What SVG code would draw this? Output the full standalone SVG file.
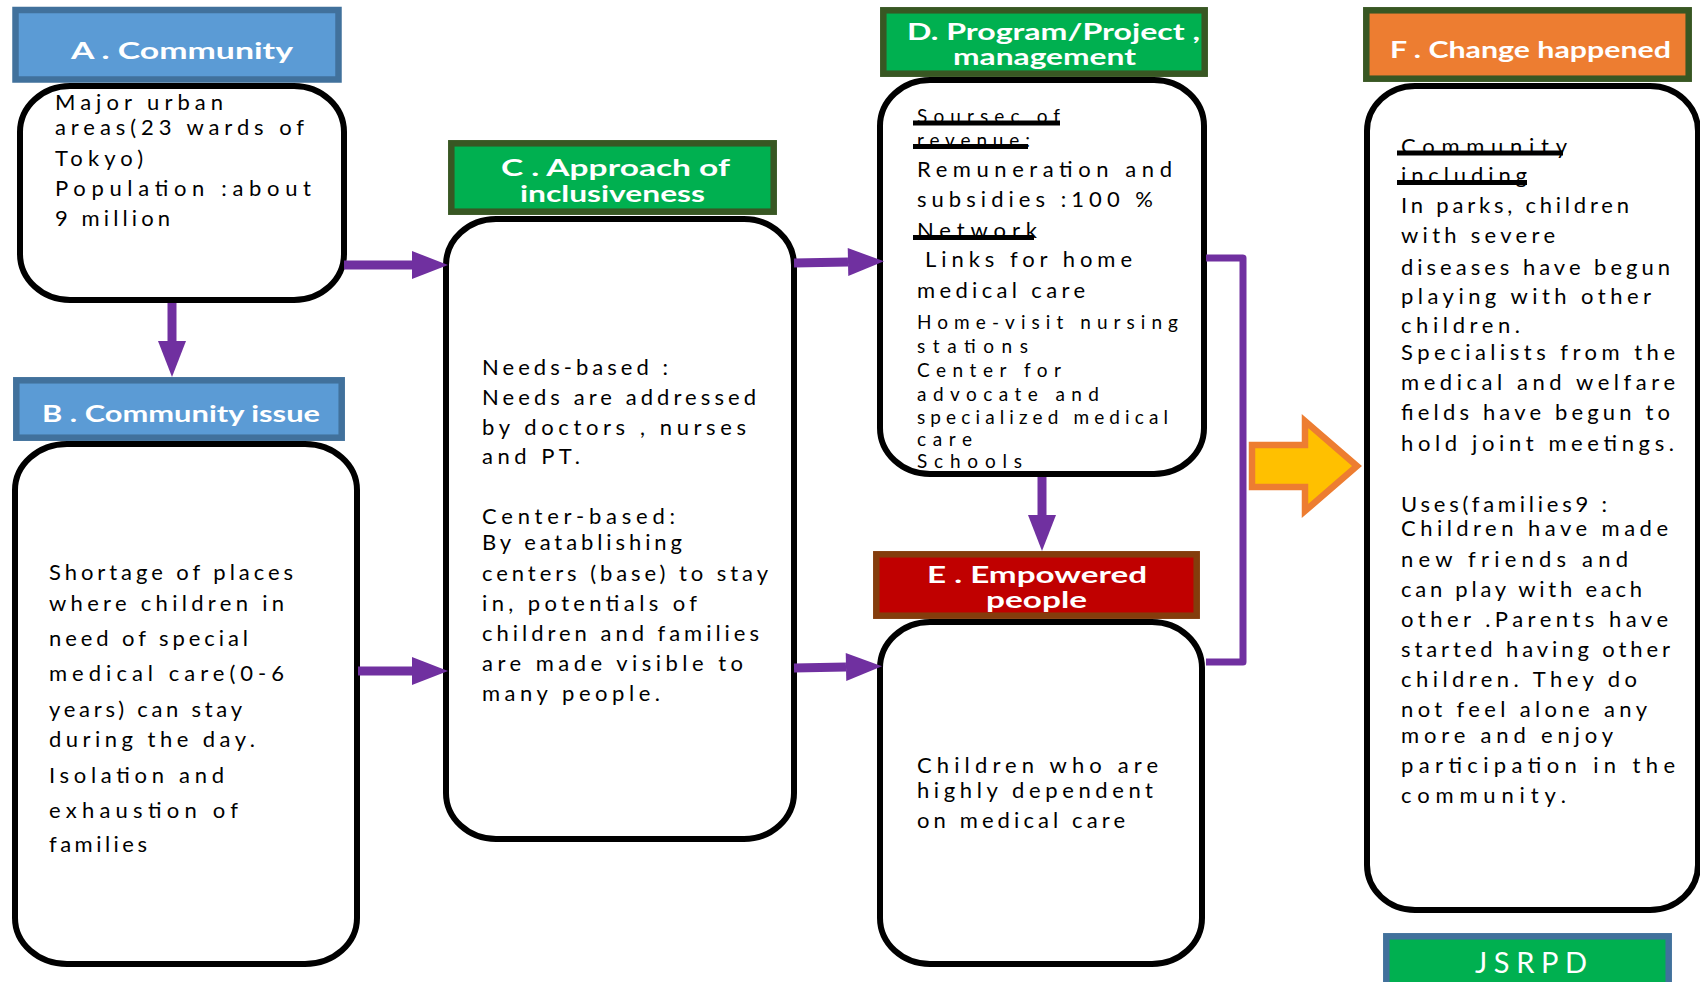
<svg xmlns="http://www.w3.org/2000/svg" width="1700" height="982" viewBox="0 0 1700 982">
  <defs>
    <style>
      .box { fill: #ffffff; stroke: #000000; stroke-width: 6; }
      .hb { stroke-width: 6.5; }
      .blue { fill: #5B9BD5; stroke: #41719C; }
      .green { fill: #00B050; stroke: #385723; }
      .badge { fill: #00B050; stroke: #41719C; }
      .red { fill: #C00000; stroke: #843C0C; }
      .orange { fill: #ED7D31; stroke: #385723; }
      .ht { font-family: Lato, "Liberation Sans", sans-serif; font-weight: bold; fill: #ffffff; font-size: 23px; }
      .t { font-family: Lato, "Liberation Sans", sans-serif; font-size: 22px; fill: #000000; }
      .ts { font-size: 19px; }
      .ul { fill: #000000; }
      .conn { stroke: #7030A0; stroke-width: 9; fill: none; }
      .bracket { stroke: #7030A0; stroke-width: 7; fill: none; stroke-linejoin: round; }
    </style>
    <marker id="ah" markerUnits="userSpaceOnUse" markerWidth="40" markerHeight="30" refX="0" refY="14" orient="auto" overflow="visible">
      <path d="M0,0 L36,14 L0,28 z" fill="#7030A0"/>
    </marker>
  </defs>

  <rect width="1700" height="982" fill="#ffffff"/>

  <!-- A. Community -->
  <g id="node-a">
    <rect class="box" x="20" y="86" width="324" height="214" rx="50" ry="46"/>
    <rect class="hb blue" x="15.5" y="10" width="323" height="69.5"/>
    <text class="ht" x="71" y="59" font-size="27" textLength="222" lengthAdjust="spacingAndGlyphs">A . Community</text>
    <text class="t" x="55" y="110" textLength="168" lengthAdjust="spacing">Major urban</text>
    <text class="t" x="55" y="135" textLength="249" lengthAdjust="spacing">areas(23 wards of</text>
    <text class="t" x="55" y="166" textLength="88" lengthAdjust="spacing">Tokyo)</text>
    <text class="t" x="55" y="196" textLength="256" lengthAdjust="spacing">Population :about</text>
    <text class="t" x="55" y="226" textLength="115" lengthAdjust="spacing">9 million</text>
  </g>

  <!-- B. Community issue -->
  <g id="node-b">
    <rect class="box" x="15" y="444" width="342" height="520" rx="52" ry="46"/>
    <rect class="hb blue" x="16.3" y="380.3" width="325.4" height="57.4"/>
    <text class="ht" x="42" y="422" textLength="278" lengthAdjust="spacingAndGlyphs">B . Community issue</text>
    <text class="t" x="49" y="580" textLength="244" lengthAdjust="spacing">Shortage of places</text>
    <text class="t" x="49" y="611" textLength="235" lengthAdjust="spacing">where children in</text>
    <text class="t" x="49" y="646" textLength="199" lengthAdjust="spacing">need of special</text>
    <text class="t" x="49" y="681" textLength="235" lengthAdjust="spacing">medical care(0-6</text>
    <text class="t" x="49" y="717" textLength="193" lengthAdjust="spacing">years) can stay</text>
    <text class="t" x="49" y="747" textLength="206" lengthAdjust="spacing">during the day.</text>
    <text class="t" x="49" y="783" textLength="175" lengthAdjust="spacing">Isolation and</text>
    <text class="t" x="49" y="818" textLength="189" lengthAdjust="spacing">exhaustion of</text>
    <text class="t" x="49" y="852" textLength="98" lengthAdjust="spacing">families</text>
  </g>

  <!-- C. Approach of inclusiveness -->
  <g id="node-c">
    <rect class="box" x="446" y="219" width="348" height="620" rx="50" ry="46"/>
    <rect class="hb green" x="451.3" y="143.3" width="322.4" height="68.4"/>
    <text class="ht" x="501" y="176" font-size="22" textLength="229" lengthAdjust="spacingAndGlyphs">C . Approach of</text>
    <text class="ht" x="520" y="202" font-size="22" textLength="185" lengthAdjust="spacingAndGlyphs">inclusiveness</text>
    <text class="t" x="482" y="375" textLength="186" lengthAdjust="spacing">Needs-based :</text>
    <text class="t" x="482" y="405" textLength="274" lengthAdjust="spacing">Needs are addressed</text>
    <text class="t" x="482" y="435" textLength="264" lengthAdjust="spacing">by doctors , nurses</text>
    <text class="t" x="482" y="464" textLength="98" lengthAdjust="spacing">and PT.</text>
    <text class="t" x="482" y="524" textLength="193" lengthAdjust="spacing">Center-based:</text>
    <text class="t" x="482" y="550" textLength="200" lengthAdjust="spacing">By eatablishing</text>
    <text class="t" x="482" y="581" textLength="286" lengthAdjust="spacing">centers (base) to stay</text>
    <text class="t" x="482" y="611" textLength="215" lengthAdjust="spacing">in, potentials of</text>
    <text class="t" x="482" y="641" textLength="277" lengthAdjust="spacing">children and families</text>
    <text class="t" x="482" y="671" textLength="261" lengthAdjust="spacing">are made visible to</text>
    <text class="t" x="482" y="701" textLength="178" lengthAdjust="spacing">many people.</text>
  </g>

  <!-- D. Program/Project management -->
  <g id="node-d">
    <rect class="box" x="880" y="80" width="324" height="394" rx="50" ry="46"/>
    <rect class="hb green" x="883.3" y="10.3" width="321.4" height="63.4"/>
    <text class="ht" x="907" y="40" font-size="20" textLength="293" lengthAdjust="spacingAndGlyphs">D. Program/Project ,</text>
    <text class="ht" x="953" y="65" font-size="20" textLength="183" lengthAdjust="spacingAndGlyphs">management</text>
    <text class="t ts" x="917" y="123" textLength="143" lengthAdjust="spacing">Soursec of</text>
    <rect class="ul" x="913" y="120.5" width="147" height="5"/>
    <text class="t ts" x="917" y="147" textLength="113" lengthAdjust="spacing">revenue:</text>
    <rect class="ul" x="913" y="144" width="115" height="5"/>
    <text class="t" x="917" y="177" textLength="255" lengthAdjust="spacing">Remuneration and</text>
    <text class="t" x="917" y="207" textLength="236" lengthAdjust="spacing">subsidies :100 %</text>
    <text class="t" x="917" y="238" textLength="120" lengthAdjust="spacing">Network</text>
    <rect class="ul" x="913" y="235" width="121" height="5"/>
    <text class="t" x="925" y="267" textLength="207" lengthAdjust="spacing">Links for home</text>
    <text class="t" x="917" y="298" textLength="168" lengthAdjust="spacing">medical care</text>
    <text class="t ts" x="917" y="329" textLength="261" lengthAdjust="spacing">Home-visit nursing</text>
    <text class="t ts" x="917" y="353" textLength="111" lengthAdjust="spacing">stations</text>
    <text class="t ts" x="917" y="377" textLength="144" lengthAdjust="spacing">Center for</text>
    <text class="t ts" x="917" y="401" textLength="182" lengthAdjust="spacing">advocate and</text>
    <text class="t ts" x="917" y="424" textLength="251" lengthAdjust="spacing">specialized medical</text>
    <text class="t ts" x="917" y="446" textLength="55" lengthAdjust="spacing">care</text>
    <text class="t ts" x="917" y="468" textLength="105" lengthAdjust="spacing">Schools</text>
  </g>

  <!-- E. Empowered people -->
  <g id="node-e">
    <rect class="box" x="880" y="622" width="322" height="342" rx="50" ry="46"/>
    <rect class="hb red" x="876.3" y="554.3" width="320.4" height="61.4"/>
    <text class="ht" x="927" y="583" textLength="220" lengthAdjust="spacingAndGlyphs">E . Empowered</text>
    <text class="ht" x="986" y="608" textLength="101" lengthAdjust="spacingAndGlyphs">people</text>
    <text class="t" x="917" y="773" textLength="241" lengthAdjust="spacing">Children who are</text>
    <text class="t" x="917" y="798" textLength="236" lengthAdjust="spacing">highly dependent</text>
    <text class="t" x="917" y="828" textLength="208" lengthAdjust="spacing">on medical care</text>
  </g>

  <!-- F. Change happened -->
  <g id="node-f">
    <rect class="box" x="1367" y="86" width="331" height="824" rx="48" ry="45"/>
    <rect class="hb orange" x="1366.3" y="10.3" width="322.4" height="68.4"/>
    <text class="ht" x="1390" y="58" textLength="281" lengthAdjust="spacingAndGlyphs">F . Change happened</text>
    <text class="t" x="1401" y="154" textLength="166" lengthAdjust="spacing">Community</text>
    <rect class="ul" x="1397" y="150.5" width="166" height="5"/>
    <text class="t" x="1401" y="183" textLength="126" lengthAdjust="spacing">including</text>
    <rect class="ul" x="1397" y="180" width="130" height="5"/>
    <text class="t" x="1401" y="213" textLength="228" lengthAdjust="spacing">In parks, children</text>
    <text class="t" x="1401" y="243" textLength="154" lengthAdjust="spacing">with severe</text>
    <text class="t" x="1401" y="275" textLength="269" lengthAdjust="spacing">diseases have begun</text>
    <text class="t" x="1401" y="304" textLength="250" lengthAdjust="spacing">playing with other</text>
    <text class="t" x="1401" y="333" textLength="119" lengthAdjust="spacing">children.</text>
    <text class="t" x="1401" y="360" textLength="274" lengthAdjust="spacing">Specialists from the</text>
    <text class="t" x="1401" y="390" textLength="274" lengthAdjust="spacing">medical and welfare</text>
    <text class="t" x="1401" y="420" textLength="269" lengthAdjust="spacing">fields have begun to</text>
    <text class="t" x="1401" y="451" textLength="273" lengthAdjust="spacing">hold joint meetings.</text>
    <text class="t" x="1401" y="512" textLength="206" lengthAdjust="spacing">Uses(families9 :</text>
    <text class="t" x="1401" y="536" textLength="267" lengthAdjust="spacing">Children have made</text>
    <text class="t" x="1401" y="567" textLength="227" lengthAdjust="spacing">new friends and</text>
    <text class="t" x="1401" y="597" textLength="241" lengthAdjust="spacing">can play with each</text>
    <text class="t" x="1401" y="627" textLength="267" lengthAdjust="spacing">other .Parents have</text>
    <text class="t" x="1401" y="657" textLength="269" lengthAdjust="spacing">started having other</text>
    <text class="t" x="1401" y="687" textLength="236" lengthAdjust="spacing">children. They do</text>
    <text class="t" x="1401" y="717" textLength="246" lengthAdjust="spacing">not feel alone any</text>
    <text class="t" x="1401" y="743" textLength="212" lengthAdjust="spacing">more and enjoy</text>
    <text class="t" x="1401" y="773" textLength="274" lengthAdjust="spacing">participation in the</text>
    <text class="t" x="1401" y="803" textLength="165" lengthAdjust="spacing">community.</text>
  </g>

  <!-- JSRPD badge -->
  <g id="badge-jsrpd">
    <rect class="hb badge" x="1386.3" y="936.3" width="282.4" height="60"/>
    <text x="1475" y="973" font-family="Lato, 'Liberation Sans', sans-serif" font-size="29" fill="#ffffff" textLength="112" lengthAdjust="spacing">JSRPD</text>
  </g>

  <!-- connectors -->
  <g id="connectors">
    <line class="conn" x1="172" y1="303" x2="172" y2="341" marker-end="url(#ah)"/>
    <line class="conn" x1="344" y1="265" x2="412" y2="265" marker-end="url(#ah)"/>
    <line class="conn" x1="358" y1="671" x2="412" y2="671" marker-end="url(#ah)"/>
    <line class="conn" x1="794" y1="263" x2="848" y2="262" marker-end="url(#ah)"/>
    <line class="conn" x1="794" y1="668" x2="846" y2="667" marker-end="url(#ah)"/>
    <line class="conn" x1="1042" y1="477" x2="1042" y2="515" marker-end="url(#ah)"/>
    <path class="bracket" d="M1206,258 L1243,258 L1243,662 L1206,662"/>
    <path d="M1252,445 L1305,445 L1305,421 L1357,466 L1305,511 L1305,487 L1252,487 Z" fill="#FFC000" stroke="#ED7D31" stroke-width="6.5"/>
  </g>
</svg>
